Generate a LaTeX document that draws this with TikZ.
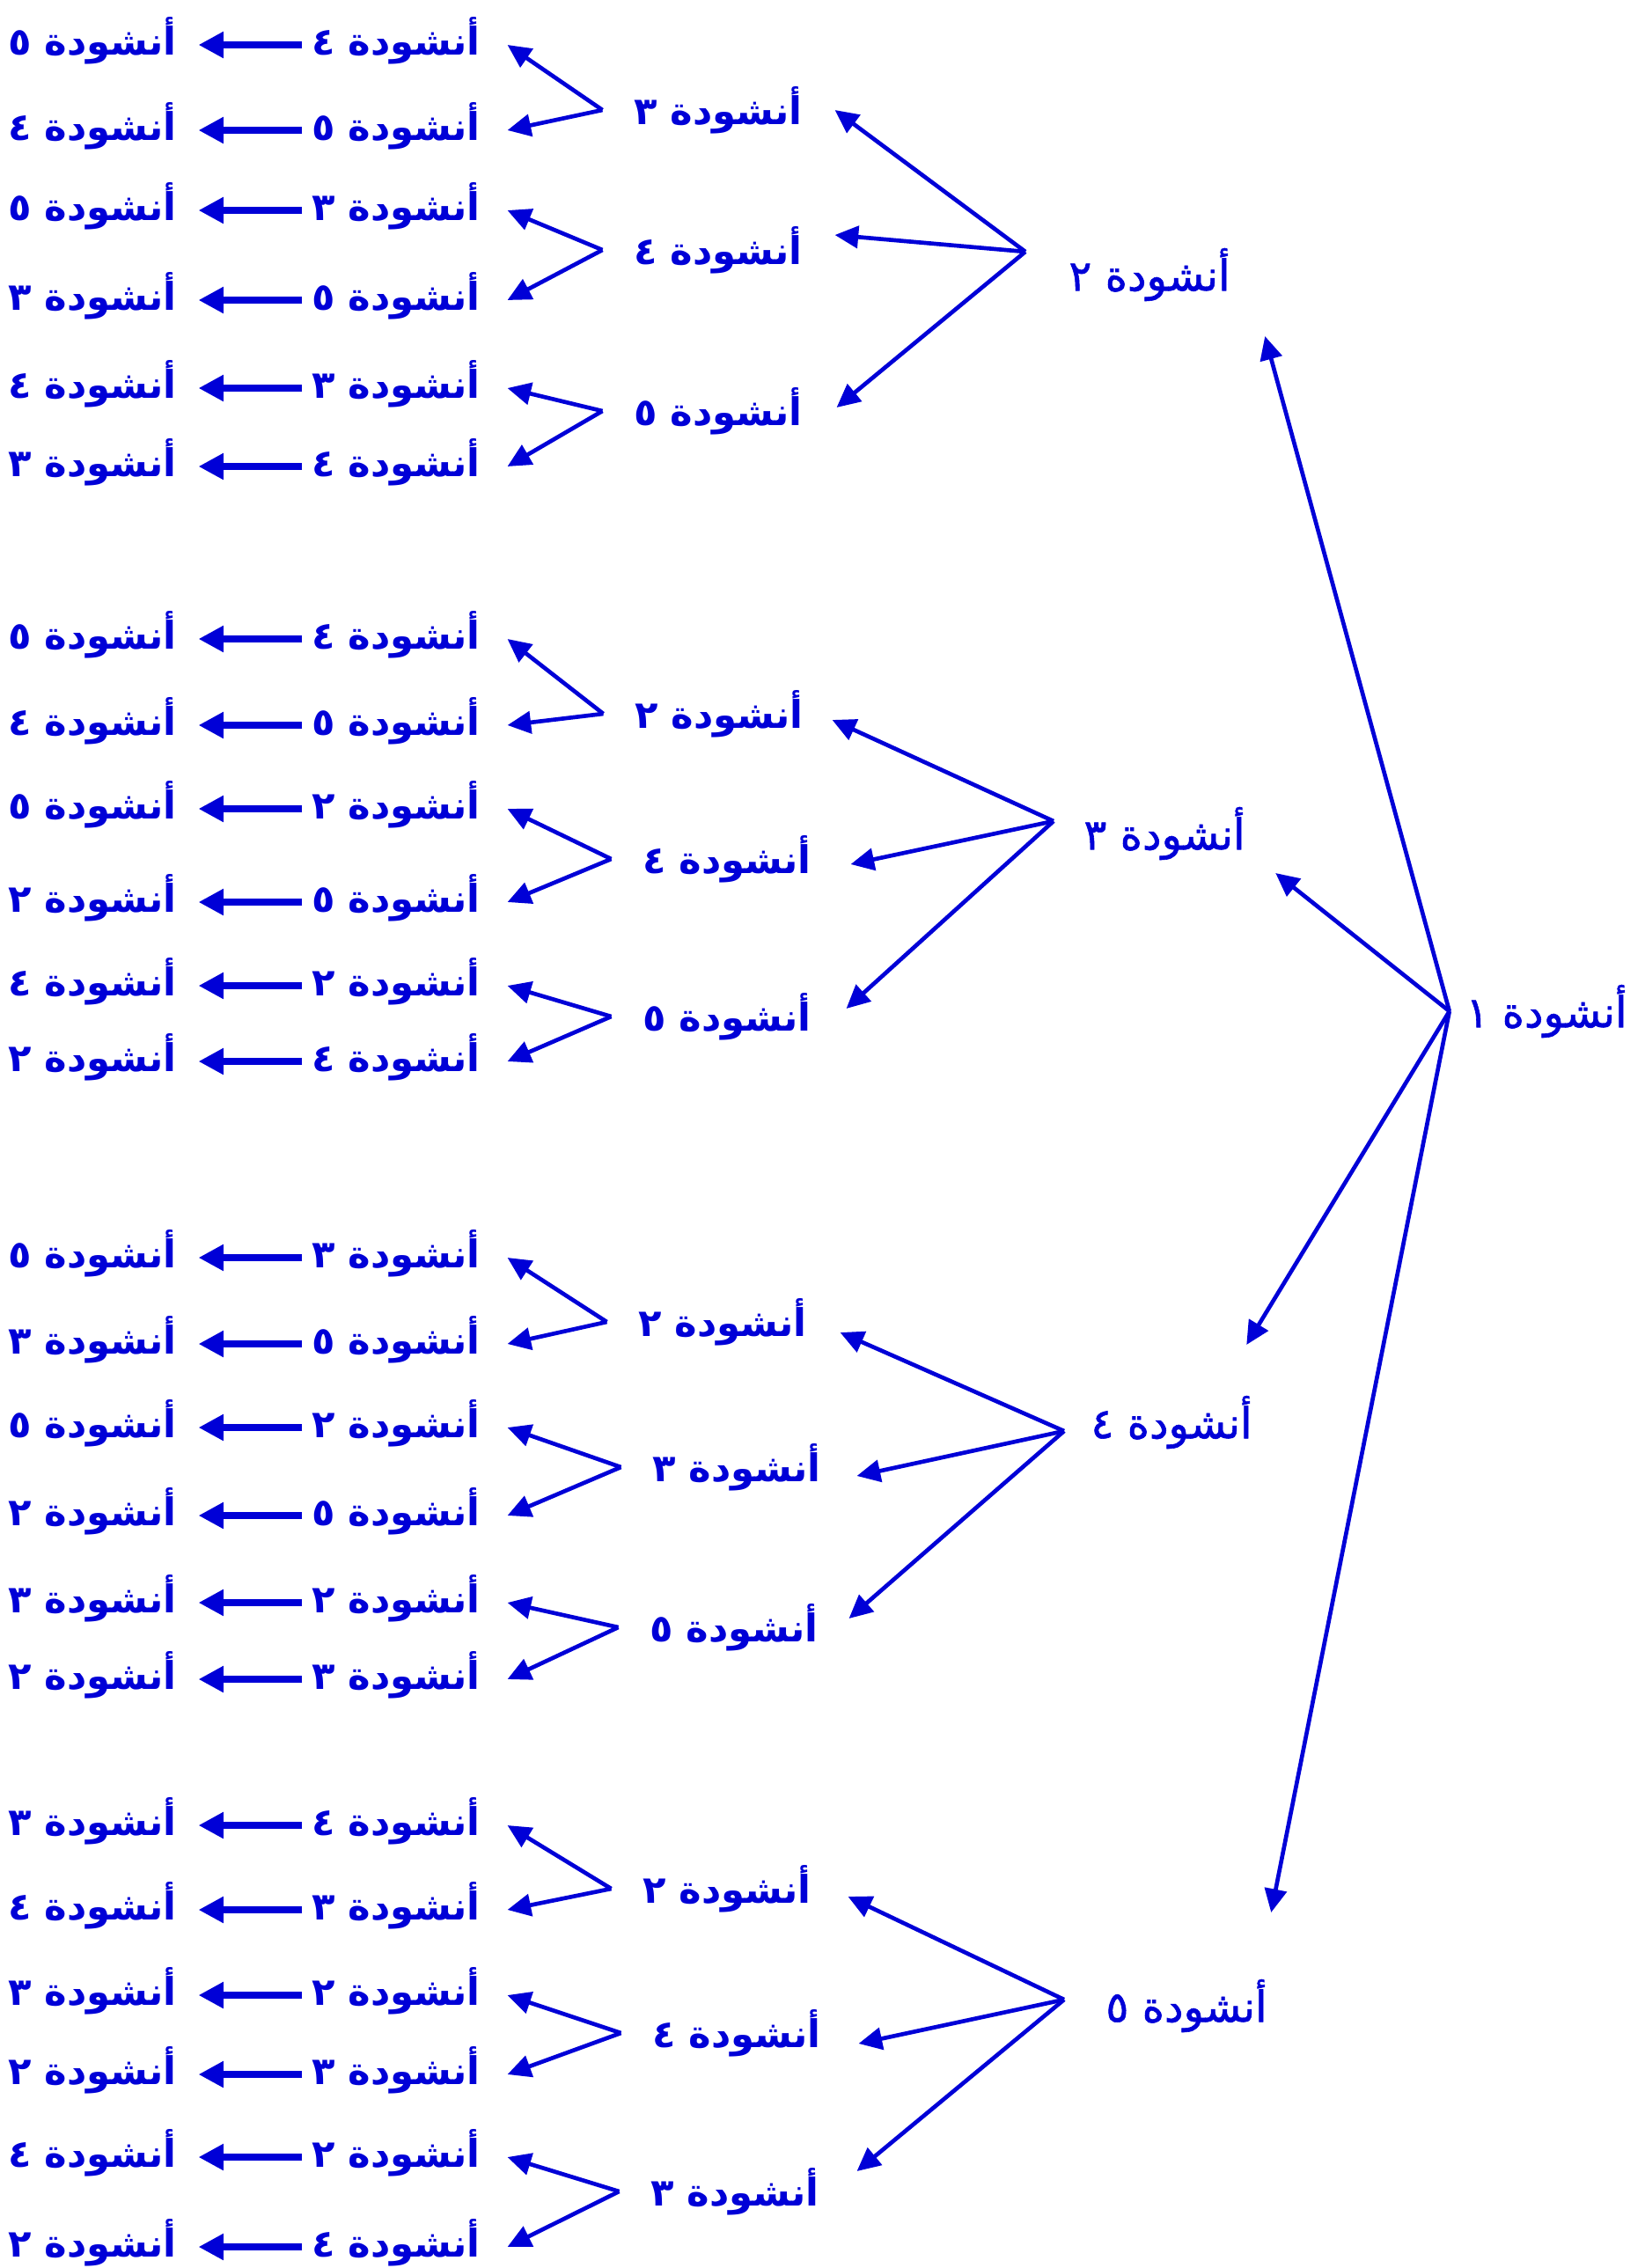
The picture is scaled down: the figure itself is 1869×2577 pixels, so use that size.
\documentclass[tikz,border=0pt]{standalone}
\usepackage{fontspec}
\usetikzlibrary{arrows.meta}
\newfontfamily\arabicfont[Script=Arabic]{DejaVu Sans}
\newfontfamily\arabichead[Script=Arabic,FakeBold=1.2]{DejaVu Sans}
\TeXXeTstate=1
\definecolor{songblue}{RGB}{0,0,215}
\newcommand{\song}[1]{\beginR أنشودة \ifcase#1\or ١\or ٢\or ٣\or ٤\or ٥\fi\endR}

\begin{document}
\begin{tikzpicture}
      [ x=0.3pt, y=-0.3pt,
        every node/.style={inner sep=0pt, text=songblue},
        song/.style={font=\arabicfont\fontsize{13}{16}\selectfont\bfseries},
        head/.style={font=\arabichead\fontsize{14.5}{17}\selectfont},
        link/.style={songblue, line width=1.4pt, -{Triangle[length=8pt,width=7.5pt]}},
        bar/.style={songblue, line width=2.2pt, -{Triangle[length=8.5pt,width=8.5pt]}}
      ]
      \useasboundingbox (0,0) rectangle (1869,2577);
      % first song and the second one
      \node[head] (s1)   at (1757,1149) {\song1};
      \node[head] (s12)  at (1306,312)  {\song2};
      \node[head] (s13)  at (1323,947)  {\song3};
      \node[head] (s14)  at (1331,1616) {\song4};
      \node[head] (s15)  at (1348,2279) {\song5};
      % third song
      \node[song] (s123) at (816,125)   {\song3};
      \node[song] (s124) at (816,284)   {\song4};
      \node[song] (s125) at (816,467)   {\song5};
      \node[song] (s132) at (817,811)   {\song2};
      \node[song] (s134) at (826,976)   {\song4};
      \node[song] (s135) at (826,1155)  {\song5};
      \node[song] (s142) at (821,1502)  {\song2};
      \node[song] (s143) at (837,1667)  {\song3};
      \node[song] (s145) at (834,1849)  {\song5};
      \node[song] (s152) at (826,2146)  {\song2};
      \node[song] (s154) at (837,2310)  {\song4};
      \node[song] (s153) at (835,2490)  {\song3};

      \coordinate (j1)  at ([shift={(-18,0)}]s1.west);
      \coordinate (j12) at (1165,286);
      \coordinate (j13) at (1197,933);
      \coordinate (j14) at (1209,1626);
      \coordinate (j15) at (1209,2272);
      \foreach \pg/\pc in {2/3,2/4,2/5,3/2,3/4,3/5,4/2,4/3,4/5,5/2,5/4,5/3}
        \coordinate (j1\pg\pc) at ([shift={(-35,0)}]s1\pg\pc.west);

      \path[link] (j1)  edge ([shift={(39,70)}]s12.east)
                        edge ([shift={(34,45)}]s13.east)
                        edge ([shift={(-7,-88)}]s14.east)
                        edge ([shift={(4,-106)}]s15.east)
                  (j12) edge ([shift={(36,0)}]s123.east)
                        edge ([shift={(36,-17)}]s124.east)
                        edge ([shift={(38,-4)}]s125.east)
                  (j13) edge ([shift={(32,7)}]s132.east)
                        edge ([shift={(44,6)}]s134.east)
                        edge ([shift={(39,-9)}]s135.east)
                  (j14) edge ([shift={(37,12)}]s142.east)
                        edge ([shift={(40,10)}]s143.east)
                        edge ([shift={(34,-10)}]s145.east)
                  (j15) edge ([shift={(41,9)}]s152.east)
                        edge ([shift={(42,12)}]s154.east)
                        edge ([shift={(42,-23)}]s153.east);

      % fourth and fifth song, row by row
      \foreach \pg/\pc/\pb/\pa/\row in
        {2/3/4/5/46, 2/3/5/4/143, 2/4/3/5/234, 2/4/5/3/336, 2/5/3/4/436, 2/5/4/3/525,
         3/2/4/5/721, 3/2/5/4/819, 3/4/2/5/914, 3/4/5/2/1020, 3/5/2/4/1115, 3/5/4/2/1201,
         4/2/3/5/1424, 4/2/5/3/1522, 4/3/2/5/1617, 4/3/5/2/1717, 4/5/2/3/1816, 4/5/3/2/1903,
         5/2/4/3/2069, 5/2/3/4/2165, 5/4/2/3/2262, 5/4/3/2/2352, 5/3/2/4/2446, 5/3/4/2/2548}
      {
        \node[song] (s1\pg\pc\pb)    at (450,\row) {\song\pb};
        \node[song] (s1\pg\pc\pb\pa) at (105,\row) {\song\pa};
        \path[link] (j1\pg\pc) edge ([shift={(30,5)}]s1\pg\pc\pb.east);
        \path[bar]  ([shift={(-10,5)}]s1\pg\pc\pb.west) edge ([shift={(24,5)}]s1\pg\pc\pb\pa.east);
      }
\end{tikzpicture}
\end{document}
